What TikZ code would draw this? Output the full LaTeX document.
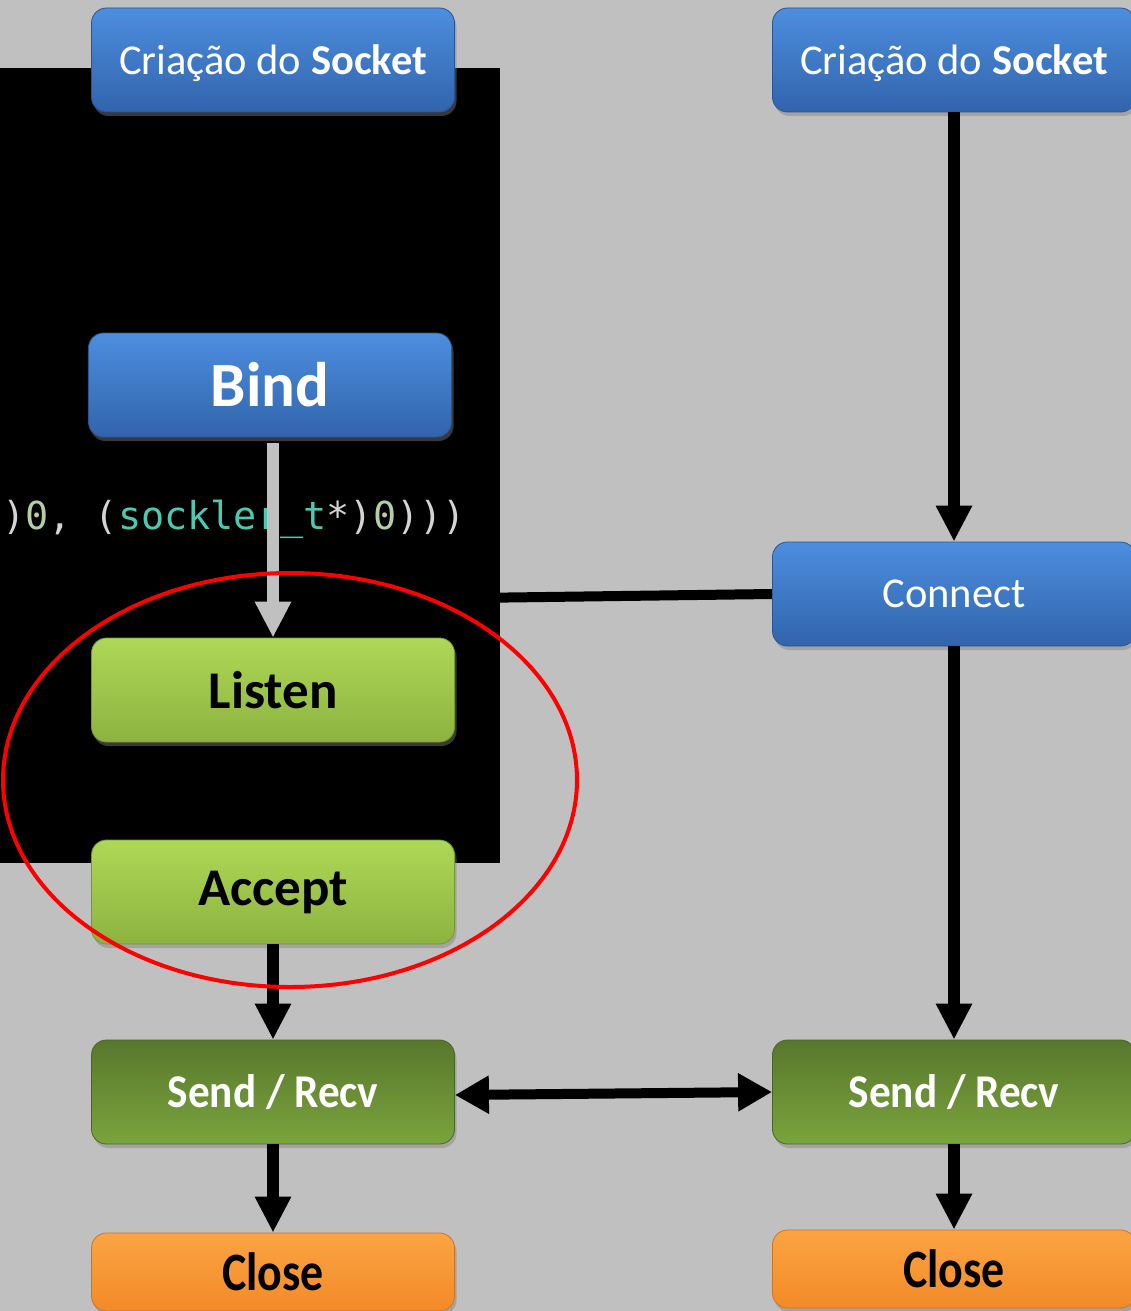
\documentclass[tikz,border=0pt]{standalone}
\usepackage{fontspec}
\usepackage{graphicx}
\setmainfont{Carlito}
\newfontfamily\codefont{DejaVu Sans Mono}
\usetikzlibrary{arrows.meta,shadows}
\definecolor{bggray}{HTML}{C0C0C0}
\definecolor{blueT}{HTML}{4D8EDF}
\definecolor{blueB}{HTML}{3164AC}
\definecolor{lgreenT}{HTML}{AED857}
\definecolor{lgreenB}{HTML}{8DB33F}
\definecolor{dgreenT}{HTML}{58772D}
\definecolor{dgreenB}{HTML}{7AA43C}
\definecolor{orangeT}{HTML}{FBA443}
\definecolor{orangeB}{HTML}{F38A28}
\definecolor{cpar}{HTML}{D4D4D4}
\definecolor{cnum}{HTML}{B5CEA8}
\definecolor{ctype}{HTML}{4EC9B0}
\pgfdeclarelayer{bgl}
\pgfdeclarelayer{hidden}
\pgfdeclarelayer{blk}
\pgfdeclarelayer{top}
\pgfsetlayers{bgl,hidden,blk,main,top}
\tikzset{
  box/.style={rounded corners=15pt, minimum height=104pt, minimum width=363pt,
    inner sep=0pt, drop shadow={shadow xshift=2pt, shadow yshift=-4pt, opacity=0.45}},
  bluebox/.style={box, top color=blueT, bottom color=blueB, draw=blueB!85!black, line width=0.8pt,
    text=white, font=\fontsize{42.5}{46}\selectfont},
  lgbox/.style={box, top color=lgreenT, bottom color=lgreenB, draw=lgreenB!85!black, line width=0.8pt,
    text=black, font=\fontsize{53}{56}\selectfont\bfseries},
  dgbox/.style={box, top color=dgreenT, bottom color=dgreenB, draw=dgreenT!85!black, line width=0.8pt,
    text=white, font=\fontsize{47}{50}\selectfont\bfseries},
  orbox/.style={box, minimum height=78pt, top color=orangeT, bottom color=orangeB, draw=orangeB!85!black, line width=0.8pt,
    text=black, font=\fontsize{54}{58}\selectfont\bfseries},
  arr/.style={line width=12pt, -{Triangle[length=36pt,width=34pt]}},
  dblarr/.style={line width=10pt, {Triangle[length=34pt,width=36pt]}-{Triangle[length=34pt,width=36pt]}},
  plainline/.style={line width=10pt}
}
\begin{document}
\begin{tikzpicture}[x=1pt,y=-1pt]
\useasboundingbox (0,0) rectangle (1131,1311);
\clip (0,0) rectangle (1131,1311);
\begin{pgfonlayer}{bgl}
  \fill[bggray] (0,0) rectangle (1131,1311);
\end{pgfonlayer}
\begin{pgfonlayer}{blk}
  \fill[black] (0,68) rectangle (500,863);
  \node[anchor=base west, inner sep=0pt, font=\codefont\fontsize{38.5}{42}\selectfont] (code) at (2,529)
    {\textcolor{cpar}{)}\textcolor{cnum}{0}\textcolor{cpar}{, (}\textcolor{ctype}{sockler\_t}\textcolor{cpar}{*)}\textcolor{cnum}{0}\textcolor{cpar}{)))}};
\end{pgfonlayer}

% nodes
\node[bluebox, text depth=-3pt] (lsock) at (273,60) {Criação do \textbf{Socket}};
\node[bluebox, font=\fontsize{63}{66}\selectfont\bfseries] (bind) at (270,385) {Bind};
\node[lgbox] (listen) at (273,690) {Listen};
\node[lgbox] (accept) at (273,892) {Accept};
\node[dgbox] (lsr) at (273,1092) {\scalebox{0.92}[1]{Send / Recv}};
\node[orbox] (lclose) at (273,1272) {\scalebox{0.85}[1]{Close}};

\node[bluebox, text depth=-3pt] (rsock) at (954,60) {Criação do \textbf{Socket}};
\node[bluebox] (connect) at (954,594) {Connect};
\node[dgbox] (rsr) at (954,1092) {\scalebox{0.92}[1]{Send / Recv}};
\node[orbox] (rclose) at (954,1269) {\scalebox{0.85}[1]{Close}};

\coordinate (join) at (470,598);

\begin{pgfonlayer}{hidden}
  \draw[arr] (lsock.south) -- (lsock.south |- bind.north);
  \draw[arr] (listen.south) -- (accept.north);
  \draw[plainline] (connect.west) -- (join);
\end{pgfonlayer}

% visible connectors
\draw[arr, draw=bggray, fill=bggray] ([yshift=-6pt]listen.north |- bind.south) -- (listen.north);
\draw[arr] (rsock.south) -- (connect.north);
\draw[arr] (connect.south) -- (rsr.north);
\draw[arr] (accept.south) -- (lsr.north);
\draw[arr] (lsr.south) -- (lclose.north);
\draw[arr] (rsr.south) -- (rclose.north);
\draw[dblarr] ([yshift=-3pt]lsr.east) -- (rsr.west);

\begin{pgfonlayer}{top}
  \draw[red, line width=4pt] (290,780) ellipse [x radius=287, y radius=207];
\end{pgfonlayer}
\end{tikzpicture}
\end{document}
